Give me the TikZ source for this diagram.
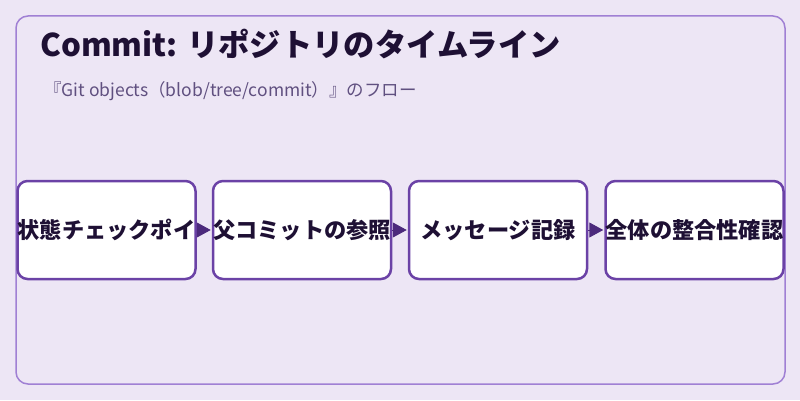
\documentclass[tikz,border=0pt]{standalone}
\usepackage{fontspec}
\setmainfont{Noto Sans CJK JP}
\usetikzlibrary{arrows.meta}
\definecolor{bgc}{RGB}{237,230,245}
\definecolor{outerc}{RGB}{160,128,212}
\definecolor{boxc}{RGB}{107,66,166}
\definecolor{arrc}{RGB}{76,42,124}
\definecolor{txtc}{RGB}{30,16,52}
\definecolor{subc}{RGB}{96,80,128}
\tikzset{
  stepbox/.style={draw=boxc, line width=2.5pt, fill=white, rounded corners=10pt,
    minimum width=178pt, minimum height=98pt, inner sep=0pt,
    font=\fontsize{22.2}{24}\selectfont\bfseries, text=txtc},
  flow/.style={draw=arrc, line width=1pt, shorten >=1pt, arrows={-Triangle[length=14pt 0 0,width=15pt 0 0]}},
  titletext/.style={anchor=base west, inner sep=0pt, text=txtc, font=\fontsize{31.3}{34}\selectfont\bfseries},
  subtext/.style={anchor=base west, inner sep=0pt, text=subc, font=\fontsize{17.5}{20}\selectfont}
}
\begin{document}
\begin{tikzpicture}[x=1pt,y=1pt]
\useasboundingbox (0,0) rectangle (800,400);
\fill[bgc] (0,0) rectangle (800,400);
\draw[outerc, line width=1.5pt, rounded corners=12pt, fill=bgc] (16,16) rectangle (785,384);
\node[titletext] (title) at (40,344) {Commit: リポジトリのタイムライン};
\node[subtext] (sub) at (44,304) {『Git objects（blob/tree/commit）』のフロー};
\node[stepbox] (s1) at (106.5,170) {状態チェックポイ};
\node[stepbox] (s2) at (302,170) {父コミットの参照};
\node[stepbox] (s3) at (498,170) {メッセージ記録};
\node[stepbox] (s4) at (694.5,170) {全体の整合性確認};
\draw[flow] (s1.east) -- (s2.west);
\draw[flow] (s2.east) -- (s3.west);
\draw[flow] (s3.east) -- (s4.west);
\end{tikzpicture}
\end{document}
